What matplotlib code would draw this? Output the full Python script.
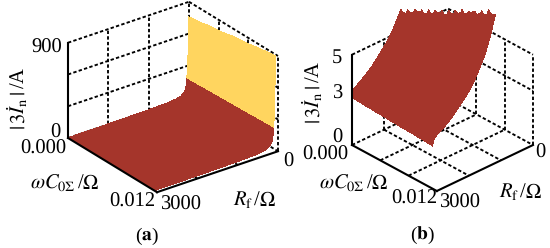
import numpy as np
import matplotlib
matplotlib.use('Agg')
from matplotlib import pyplot as plt
from mpl_toolkits.mplot3d import proj3d

plt.rcParams['font.family'] = ['Liberation Serif', 'DejaVu Serif']
plt.rcParams['mathtext.fontset'] = 'stix'
plt.rcParams['text.hinting'] = 'no_hinting'

BROWN = '#A5352B'
YELLOW = '#FFD55F'

wc_ticks = [0.000, 0.004, 0.008, 0.012]
rf_ticks = [3000, 2000, 1000, 0]
z_ticks_a = [0, 300, 600, 900]
z_ticks_b = [0, 3, 5]

# panel (a)
wc_a = [0.0000, 0.0008, 0.0017, 0.0025, 0.0033, 0.0042, 0.0050, 0.0058, 0.0067, 0.0075, 0.0083, 0.0092, 0.0100, 0.0108, 0.0117]
factor_a = [1.00, 1.01, 1.02, 1.04, 1.05, 1.06, 1.07, 1.09, 1.10, 1.11, 1.12, 1.14, 1.15, 1.16, 1.17]
rf_a = [3000, 2000, 1000, 500, 300, 200, 140, 100, 80, 65, 55, 40, 25, 15, 11]
cur_a = [3, 5, 9, 15, 24, 36, 52, 72, 95, 130, 190, 260, 400, 620, 760]

# panel (b)
wc_b = [0.0000, 0.0004, 0.0008, 0.0012, 0.0016, 0.0020, 0.0024, 0.0028, 0.0032, 0.0036,
        0.0040, 0.0044, 0.0048, 0.0052, 0.0056, 0.0060, 0.0064, 0.0068, 0.0072, 0.0076,
        0.0080, 0.0084, 0.0088, 0.0092, 0.0096, 0.0100, 0.0104, 0.0108, 0.0114]
factor_b = [1.00, 1.00, 0.99, 0.99, 0.99, 0.98, 0.98, 0.98, 0.97, 0.97,
            0.97, 0.96, 0.96, 0.96, 0.95, 0.95, 0.95, 0.94, 0.94, 0.94,
            0.93, 0.93, 0.93, 0.92, 0.92, 0.92, 0.91, 0.91, 0.90]
rf_b = [3000, 2950, 2800, 2600, 2400, 2200, 2000, 1850, 1700, 1600,
        1500, 1480, 1460, 1440, 1420, 1400, 1380, 1360, 1340, 1320,
        1300, 1280, 1260, 1240, 1220, 1200, 1180, 1160, 1140, 1120,
        1100, 1080, 1060, 1040, 1020, 1000, 980, 960, 940, 920]
cur_b = [2.62, 3.05, 3.25, 3.50, 3.80, 4.20, 4.60, 4.95, 5.40, 5.75,
         6.15, 6.23, 6.32, 6.40, 6.48, 6.56, 6.65, 6.75, 6.85, 6.95,
         7.07, 7.18, 7.30, 7.42, 7.53, 7.65, 7.80, 7.95, 8.10, 8.25,
         8.40, 8.55, 8.70, 8.85, 9.00, 9.15, 9.32, 9.50, 9.70, 9.90]


def fig_px(ax, x, y, z):
    xp, yp, _ = proj3d.proj_transform(x, y, z, ax.get_proj())
    return ax.transData.transform(np.column_stack([np.ravel(xp), np.ravel(yp)]))


def make_axes(fig, elev, azim, aspect, zmax, left, right):
    # square axes, moved until the box corners sit on the wanted pixels
    ax = fig.add_axes([0, 0, 1, 1], projection='3d', computed_zorder=False)
    ax.set_proj_type('ortho')
    ax.view_init(elev=elev, azim=azim)
    ax.set_box_aspect(aspect)
    ax.set_xlim(0, 0.012)
    ax.set_ylim(3000, 0)
    ax.set_zlim(0, zmax)
    ax.set_axis_off()
    W, H = 550.0, 248.0
    cx, cy, size = 275.0, 124.0, 248.0
    for i in range(4):
        ax.set_position([(cx - size / 2) / W, (cy - size / 2) / H, size / W, size / H])
        fig.canvas.draw()
        a = fig_px(ax, 0, 3000, 0)[0]
        b = fig_px(ax, 0.012, 0, 0)[0]
        scale = (right[0] - left[0]) / (b[0] - a[0])
        size = size * scale
        ax.set_position([(cx - size / 2) / W, (cy - size / 2) / H, size / W, size / H])
        fig.canvas.draw()
        a = fig_px(ax, 0, 3000, 0)[0]
        cx += left[0] - a[0]
        cy += (H - left[1]) - a[1]
    ax.set_position([(cx - size / 2) / W, (cy - size / 2) / H, size / W, size / H])
    fig.canvas.draw()
    return ax


def dash(ax, xs, ys, zs):
    ax.plot(xs, ys, zs, color='black', lw=1.35, ls=(0, (1.8, 1.2)), zorder=1)


def box_lines(ax, zmax, z_grid):
    for w in wc_ticks[:-1]:
        dash(ax, [w, w], [3000, 0], [0, 0])
    for r in rf_ticks[1:]:
        dash(ax, [0, 0.012], [r, r], [0, 0])
    for z in z_grid:
        dash(ax, [0, 0], [3000, 0], [z, z])
        dash(ax, [0, 0.012], [0, 0], [z, z])
    for r in rf_ticks[1:]:
        dash(ax, [0, 0], [r, r], [0, zmax])
    for w in wc_ticks[1:]:
        dash(ax, [w, w], [0, 0], [0, zmax])
    # solid axes in front
    ax.plot([0, 0.012], [3000, 3000], [0, 0], color='black', lw=1.5, zorder=5)
    ax.plot([0.012, 0.012], [3000, 0], [0, 0], color='black', lw=1.5, zorder=5)
    ax.plot([0, 0], [3000, 3000], [0, zmax], color='black', lw=1.5, zorder=5)


def label(x, y, s, size=14.8, **kw):
    fig.text(x / 550, 1 - y / 248, s, fontsize=size, ha='center', va='center', **kw)


fig = plt.figure(figsize=(5.5, 2.48), dpi=100)

# (a)
ax_a = make_axes(fig, 27, -36.7, (149, 151, 107), z_ticks_a[-1], (68, 138), (278, 151))
box_lines(ax_a, z_ticks_a[-1], z_ticks_a[1:])
W_a, R_a = np.meshgrid(wc_a, rf_a)
Z_a = np.outer(cur_a, factor_a)
colors_a = np.empty((len(rf_a), len(wc_a)), dtype=object)
colors_a[:] = BROWN
colors_a[np.array(cur_a) >= 190, :] = YELLOW
ax_a.plot_surface(W_a, R_a, Z_a, facecolors=colors_a, rstride=1, cstride=1, shade=False,
                  linewidth=0.3, edgecolor='none', antialiased=False, zorder=2)

# (b)
ax_b = make_axes(fig, 30.6, -43.2, (124, 132, 105), z_ticks_b[-1], (352, 145), (533, 145))
box_lines(ax_b, z_ticks_b[-1], z_ticks_b[1:])
W_b, R_b = np.meshgrid(wc_b, rf_b)
Z_b = np.outer(cur_b, factor_b)
# the surface runs off the top of the picture, every other column stops a bit lower
pix = fig_px(ax_b, W_b.ravel(), R_b.ravel(), Z_b.ravel())[:, 1].reshape(Z_b.shape)
stop = np.where(np.arange(len(wc_b)) % 2 == 0, 248 - 9, 248 - 12)
Z_b[pix > stop] = np.nan
ax_b.plot_surface(W_b, R_b, Z_b, color=BROWN, rstride=1, cstride=1, shade=False,
                  linewidth=0, antialiased=False, zorder=2)

# text
ylab = r'$|\,3\dot{I}_{\mathrm{n}}\,|\,$/A'
wlab = r'$\omega C_{0\Sigma}\,$/$\Omega$'
rlab = r'$R_{\mathrm{f}}\,$/$\Omega$'

label(47, 48, str(z_ticks_a[-1]))
label(55, 133, str(z_ticks_a[0]))
label(43, 149, '%.3f' % wc_ticks[0])
label(65, 183, wlab)
label(132, 202, '%.3f' % wc_ticks[-1])
label(181, 205, str(rf_ticks[0]))
label(255, 200, rlab)
label(288, 162, str(rf_ticks[-1]))
label(17, 98, ylab, rotation=90)
label(147, 236, r'($\mathbf{a}$)', size=14)

label(337, 58, str(z_ticks_b[2]))
label(337, 94, str(z_ticks_b[1]))
label(337, 138, str(z_ticks_b[0]))
label(325, 155, '%.3f' % wc_ticks[0])
label(354, 183, wlab)
label(414, 199, '%.3f' % wc_ticks[-1])
label(460, 203, str(rf_ticks[0]))
label(521, 192, rlab)
label(540, 153, str(rf_ticks[-1]))
label(312, 92, ylab, rotation=90)
label(422, 235, r'($\mathbf{b}$)', size=14)

fig.savefig('out.png', dpi=100)
